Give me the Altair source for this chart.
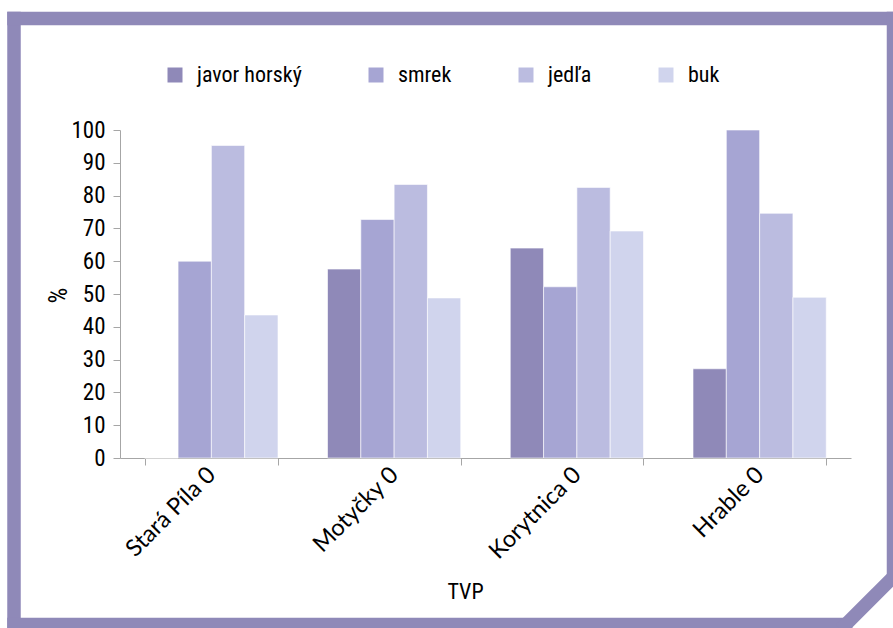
import altair as alt
import pandas as pd

# ---- data ----
sites = ["Stará Píla 0", "Motyčky 0", "Korytnica 0", "Hrable 0"]
species = ["javor horský", "smrek", "jedľa", "buk"]
javor = [0, 57.6, 64.0, 27.2]
smrek = [60.0, 72.7, 52.2, 100.0]
jedla = [95.3, 83.4, 82.5, 74.6]
buk = [43.6, 48.8, 69.2, 49.0]
y_ticks = [0, 10, 20, 30, 40, 50, 60, 70, 80, 90, 100]

series = {"javor horský": javor, "smrek": smrek, "jedľa": jedla, "buk": buk}
rows = []
for sp in species:
    for site, v in zip(sites, series[sp]):
        rows.append({"TVP": site, "druh": sp, "hodnota": v})
df = pd.DataFrame(rows)

colors = ["#8f89b8", "#a6a5d3", "#bbbce0", "#d0d4ed"]
BORDER = "#8f89b8"
AXIS = "#a6a6a6"
NARROW = "'Roboto Condensed', 'Liberation Sans Narrow', 'Noto Sans Condensed', 'DejaVu Sans Condensed', Roboto, sans-serif"
LABEL = "Lato, 'Open Sans', sans-serif"

bars = alt.Chart(df).mark_bar(stroke="white", strokeWidth=1, strokeOpacity=0.6).encode(
    x=alt.X("TVP:N", sort=sites,
            scale=alt.Scale(paddingInner=0.271, paddingOuter=0.1355),
            axis=alt.Axis(title="TVP", labelAngle=-45, labelAlign="right",
                          labelBaseline="middle", labelFont=LABEL, labelFontSize=23.5,
                          labelColor="black", labelPadding=6, tickBand="extent",
                          tickSize=7, tickColor=AXIS, domainColor=AXIS,
                          titleFont=NARROW, titleFontSize=22, titleFontWeight="normal",
                          titleColor="black", titleX=345, titleY=140,
                          titleBaseline="alphabetic")),
    xOffset=alt.XOffset("druh:N", sort=species),
    y=alt.Y("hodnota:Q", scale=alt.Scale(domain=[0, 100], nice=False),
            axis=alt.Axis(title="%", values=y_ticks, grid=False, tickSize=7,
                          tickColor=AXIS, domainColor=AXIS, labelFont=NARROW,
                          labelFontSize=23, labelColor="black", labelPadding=8,
                          titleFont=NARROW, titleFontSize=25, titleFontWeight="normal",
                          titleColor="black", titleX=-62, titleY=165,
                          titleBaseline="middle")),
    color=alt.Color("druh:N", sort=species,
                    scale=alt.Scale(domain=species, range=colors),
                    legend=alt.Legend(title=None, orient="none", legendX=44, legendY=-66,
                                      direction="horizontal", symbolType="square",
                                      symbolSize=225, symbolOpacity=1, symbolStrokeWidth=0,
                                      labelFont=NARROW, labelFontSize=22, labelColor="black",
                                      labelOffset=11, columnPadding=63)),
)

one = alt.Data(values=[{}])
frame_style = dict(color=BORDER, strokeWidth=13.5, strokeCap="square")
left = alt.Chart(one).mark_rule(**frame_style).encode(
    x=alt.value(-106), y=alt.value(-111.5), y2=alt.value(494.5))
top = alt.Chart(one).mark_rule(**frame_style).encode(
    x=alt.value(-106), x2=alt.value(773.5), y=alt.value(-111.5))
right = alt.Chart(one).mark_rule(**frame_style).encode(
    x=alt.value(773.5), y=alt.value(-111.5), y2=alt.value(446.7))
bottom = alt.Chart(one).mark_rule(**frame_style).encode(
    x=alt.value(-106), x2=alt.value(725.7), y=alt.value(494.5))
corner = alt.Chart(one).mark_rule(**frame_style).encode(
    x=alt.value(725.7), x2=alt.value(773.5), y=alt.value(494.5), y2=alt.value(446.7))

chart = alt.layer(bars, left, top, right, bottom, corner).properties(
    width=731, height=328,
    padding={"left": 120, "top": 130, "right": 42, "bottom": 170},
    autosize=alt.AutoSizeParams(type="none"),
    background="white",
).configure_view(stroke=None)

chart.save("out.html", embed_options={"renderer": "svg", "actions": False})
